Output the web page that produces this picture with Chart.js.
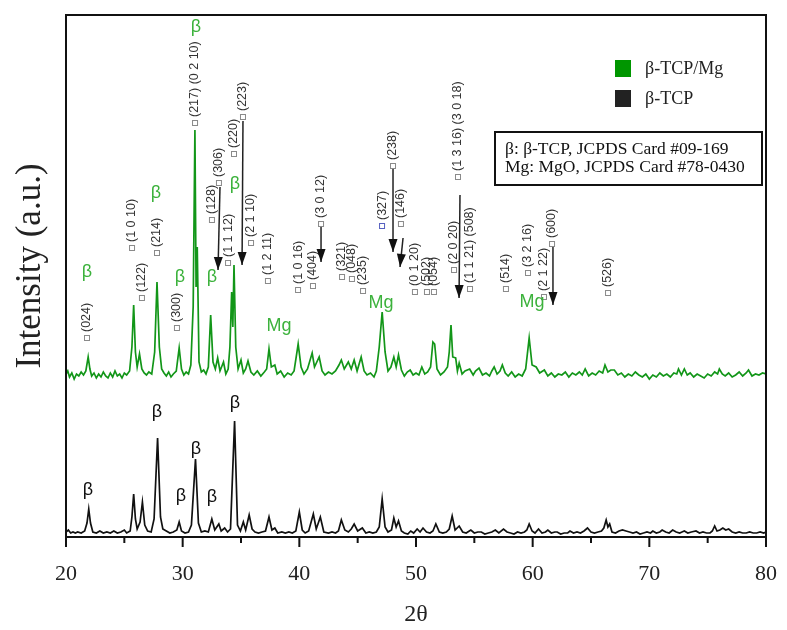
<!DOCTYPE html>
<html>
<head>
<meta charset="utf-8">
<script src="https://cdn.jsdelivr.net/npm/chart.js@4.4.0/dist/chart.umd.min.js"></script>
<style>
  html, body { margin: 0; padding: 0; background: #fff; }
  #wrap { width: 787px; height: 630px; }
</style>
</head>
<body>
<div id="wrap"><canvas id="xrdChart" width="787" height="630"></canvas></div>
<script>
// scan data: [2theta, intensity (a.u., offset included)]
const tcpMgScan = [
  [20.0,163],[20.15,166],[20.3,160],[20.5,164],[20.7,158],[20.9,163],[21.1,161],[21.3,165],[21.5,162],[21.7,166],
  [21.9,180],[22.05,168],[22.2,161],[22.4,164],[22.6,159],[22.8,163],[23.0,160],[23.2,165],[23.4,161],[23.6,159],
  [23.8,164],[24.0,160],[24.2,166],[24.4,161],[24.6,163],[24.8,159],[25.0,164],[25.2,162],[25.45,166],[25.65,190],
  [25.8,232],[25.95,185],[26.1,170],[26.3,183],[26.5,168],[26.7,164],[26.9,162],[27.1,165],[27.35,163],[27.6,185],
  [27.8,255],[28.0,190],[28.2,168],[28.4,164],[28.6,161],[28.8,165],[29.0,160],[29.2,163],[29.45,166],[29.7,189],
  [29.9,168],[30.1,162],[30.3,165],[30.5,163],[30.7,172],[30.9,230],[31.05,407],[31.15,250],[31.25,290],[31.4,175],
  [31.6,165],[31.8,167],[32.0,163],[32.2,170],[32.4,222],[32.6,175],[32.8,168],[33.0,179],[33.2,166],[33.5,175],
  [33.7,163],[33.9,168],[34.05,190],[34.2,245],[34.3,210],[34.4,272],[34.55,190],[34.75,168],[35.0,177],[35.2,164],
  [35.4,168],[35.6,176],[35.85,165],[36.1,162],[36.4,166],[36.7,161],[37.0,165],[37.2,168],[37.4,188],[37.6,170],
  [37.9,172],[38.1,163],[38.4,166],[38.7,160],[39.0,164],[39.3,162],[39.55,166],[39.9,193],[40.15,170],[40.4,163],
  [40.7,168],[41.1,184],[41.3,170],[41.7,180],[41.95,166],[42.2,162],[42.5,165],[42.8,163],[43.1,166],[43.4,172],
  [43.6,177],[43.85,168],[44.2,175],[44.45,168],[44.7,177],[44.95,166],[45.3,180],[45.55,166],[45.8,162],[46.1,164],
  [46.4,160],[46.6,166],[46.85,190],[47.1,225],[47.35,185],[47.6,166],[47.85,170],[48.1,180],[48.3,170],[48.5,182],
  [48.75,167],[49.0,161],[49.25,165],[49.5,167],[49.75,162],[50.0,164],[50.25,162],[50.5,170],[50.75,163],[51.0,165],
  [51.25,170],[51.45,195],[51.6,193],[51.8,168],[52.1,162],[52.4,165],[52.7,170],[52.85,185],[53.0,212],[53.15,180],
  [53.4,179],[53.55,166],[53.7,174],[53.95,163],[54.2,166],[54.6,168],[54.9,162],[55.1,166],[55.4,169],[55.7,162],
  [56.0,164],[56.3,161],[56.5,166],[56.7,170],[56.95,163],[57.2,166],[57.4,172],[57.65,164],[57.9,161],[58.2,165],
  [58.5,160],[58.8,163],[59.1,161],[59.4,168],[59.7,199],[59.95,172],[60.3,170],[60.6,164],[61.0,167],[61.3,161],
  [61.6,164],[61.9,160],[62.2,163],[62.5,162],[62.8,165],[63.1,160],[63.4,164],[63.7,162],[64.0,165],[64.25,162],
  [64.5,168],[64.8,161],[65.1,164],[65.4,162],[65.7,166],[66.0,164],[66.2,172],[66.45,165],[66.7,167],[67.0,167],
  [67.3,162],[67.6,164],[67.9,160],[68.2,163],[68.5,161],[68.8,165],[69.1,162],[69.4,160],[69.7,163],[70.0,158],
  [70.3,162],[70.6,160],[70.9,164],[71.2,161],[71.5,163],[71.8,160],[72.1,164],[72.35,163],[72.5,168],[72.75,162],
  [73.0,168],[73.25,162],[73.5,164],[73.8,160],[74.1,163],[74.4,161],[74.7,159],[75.0,163],[75.3,161],[75.6,165],
  [75.85,163],[76.0,168],[76.25,163],[76.5,161],[76.8,164],[77.1,160],[77.4,162],[77.7,165],[78.0,161],[78.3,164],
  [78.5,167],[78.8,161],[79.1,163],[79.4,162],[79.7,164],[80.0,163]
];

const tcpScan = [
  [20.0,5],[20.2,7],[20.4,4],[20.6,5],[20.8,4],[21.0,5],[21.3,4],[21.6,6],[21.8,14],[21.95,28],
  [22.1,14],[22.3,5],[22.6,4],[22.9,6],[23.2,4],[23.5,5],[23.8,4],[24.1,6],[24.4,4],[24.7,5],
  [25.0,7],[25.2,4],[25.5,6],[25.65,20],[25.8,43],[25.95,18],[26.1,8],[26.35,15],[26.55,35],[26.75,12],
  [27.0,6],[27.3,5],[27.55,18],[27.85,99],[28.1,20],[28.3,8],[28.6,6],[28.9,4],[29.2,5],[29.5,7],
  [29.7,15],[29.9,6],[30.2,4],[30.5,5],[30.75,12],[31.1,78],[31.35,14],[31.6,5],[31.9,6],[32.2,5],
  [32.5,18],[32.75,7],[33.1,13],[33.3,6],[33.6,9],[33.85,5],[34.1,8],[34.45,116],[34.7,12],[34.95,6],
  [35.2,15],[35.4,7],[35.7,22],[35.95,8],[36.2,5],[36.5,4],[36.8,5],[37.1,6],[37.4,20],[37.65,7],
  [37.9,9],[38.15,4],[38.5,5],[38.8,4],[39.1,5],[39.4,4],[39.7,6],[40.0,25],[40.25,7],[40.5,4],
  [40.8,6],[41.2,23],[41.45,8],[41.8,20],[42.1,5],[42.5,4],[42.8,5],[43.1,4],[43.35,6],[43.6,17],
  [43.9,7],[44.2,5],[44.45,8],[44.7,13],[45.0,6],[45.4,9],[45.7,4],[46.0,5],[46.3,4],[46.6,5],
  [46.85,10],[47.1,38],[47.35,10],[47.6,5],[47.9,7],[48.1,19],[48.3,10],[48.5,16],[48.75,6],[49.0,4],
  [49.3,3],[49.55,6],[49.8,4],[50.1,8],[50.35,5],[50.6,9],[50.9,5],[51.2,4],[51.45,6],[51.7,13],
  [52.0,5],[52.3,4],[52.6,5],[52.85,8],[53.1,21],[53.35,7],[53.7,11],[54.0,5],[54.3,4],[54.7,7],
  [55.0,4],[55.3,5],[55.6,5],[55.9,3],[56.2,4],[56.5,5],[56.8,7],[57.1,4],[57.5,8],[57.8,5],
  [58.1,4],[58.4,3],[58.7,5],[59.0,4],[59.3,5],[59.5,7],[59.7,13],[59.95,6],[60.2,4],[60.5,8],
  [60.8,4],[61.1,5],[61.3,7],[61.6,4],[61.9,5],[62.1,5],[62.4,3],[62.7,4],[63.0,4],[63.2,6],
  [63.5,4],[63.8,5],[64.1,4],[64.4,6],[64.7,9],[65.0,5],[65.3,4],[65.6,5],[65.9,6],[66.1,9],
  [66.3,17],[66.45,10],[66.6,13],[66.8,5],[67.1,4],[67.4,6],[67.7,7],[68.0,6],[68.3,5],[68.6,4],
  [68.9,5],[69.2,3],[69.5,4],[69.8,5],[70.1,4],[70.3,6],[70.6,4],[70.9,5],[71.1,7],[71.4,5],
  [71.7,4],[72.0,7],[72.3,5],[72.6,4],[72.8,5],[73.0,6],[73.3,4],[73.6,5],[74.0,6],[74.3,4],
  [74.6,5],[74.9,4],[75.2,4],[75.4,6],[75.6,11],[75.8,6],[76.05,7],[76.3,9],[76.55,7],[76.8,8],
  [77.1,5],[77.4,4],[77.7,5],[78.0,4],[78.3,4],[78.6,5],[78.9,4],[79.2,4],[79.5,5],[79.8,4],[80.0,5]
];

const xMajorTicks = [20, 30, 40, 50, 60, 70, 80];
const xMinorTicks = [25, 35, 45, 55, 65, 75];

// hkl reflections: [label, 2theta, marker height]
const hklMarks = [
  ['(024)', 21.8, 199], ['(1 0 10)', 25.66, 289], ['(122)', 26.51, 239], ['(214)', 27.8, 284],
  ['(300)', 29.51, 209], ['(217) (0 2 10)', 31.06, 414], ['(128)', 32.51, 317], ['(306)', 33.11, 354],
  ['(1 1 12)', 33.89, 274], ['(220)', 34.4, 383], ['(223)', 35.17, 420], ['(2 1 10)', 35.86, 294],
  ['(1 2 11)', 37.31, 256], ['(1 0 16)', 39.89, 247], ['(404)', 41.17, 251], ['(3 0 12)', 41.86, 313],
  ['(321)', 43.66, 260], ['(048)', 44.51, 258], ['(235)', 45.46, 246], ['(327)', 47.09, 311],
  ['(238)', 48.03, 371], ['(146)', 48.71, 313], ['(0 1 20)', 49.91, 245], ['(502)', 50.94, 245],
  ['(054)', 51.54, 245], ['(2 0 20)', 53.26, 267], ['(1 3 16) (3 0 18)', 53.6, 360],
  ['(1 1 21) (508)', 54.63, 248], ['(514)', 57.71, 248], ['(3 2 16)', 59.6, 264],
  ['(2 1 22)', 60.97, 240], ['(600)', 61.66, 293], ['(526)', 66.46, 244]
];

// arrows: [from 2theta, from height, to 2theta, to height]
const hklArrows = [
  [33.2, 350, 33.03, 267], [35.17, 416, 35.09, 272], [41.86, 310, 41.86, 275],
  [48.03, 368, 48.03, 285], [48.89, 299, 48.63, 270], [53.77, 342, 53.69, 239],
  [61.74, 290, 61.74, 232]
];

const phaseTagsMg = [
  ['β', 21.8, 265], ['β', 27.71, 344], ['β', 29.77, 260], ['β', 31.14, 510], ['β', 32.51, 260],
  ['β', 34.49, 353], ['Mg', 38.26, 211], ['Mg', 47.0, 234], ['Mg', 59.94, 235]
];
const phaseTagsTcp = [
  ['β', 21.89, 47], ['β', 27.8, 125], ['β', 29.86, 41], ['β', 31.14, 88], ['β', 32.51, 40], ['β', 34.49, 134]
];

const cardLines = ['β: β-TCP, JCPDS Card #09-169', 'Mg: MgO, JCPDS Card #78-0430'];
const yTitle = 'Intensity (a.u.)';

const GREEN = 'rgb(18,150,24)';
const TAG_GREEN = 'rgb(60,178,60)';
const SERIF = '"Liberation Serif", "Times New Roman", serif';

const toPoints = scan => scan.map(p => ({ x: p[0], y: p[1] }));

const decorPlugin = {
    id: 'decor',
    afterDatasetsDraw(chart) {
        const { ctx, chartArea: a, scales: { x, y } } = chart;
        ctx.save();

        // frame + ticks
        ctx.strokeStyle = '#111';
        ctx.lineWidth = 2;
        ctx.strokeRect(a.left, a.top, a.right - a.left, a.bottom - a.top);
        xMajorTicks.forEach(v => {
            const px = x.getPixelForValue(v);
            ctx.beginPath(); ctx.moveTo(px, a.bottom); ctx.lineTo(px, a.bottom + 10); ctx.stroke();
        });
        xMinorTicks.forEach(v => {
            const px = x.getPixelForValue(v);
            ctx.beginPath(); ctx.moveTo(px, a.bottom); ctx.lineTo(px, a.bottom + 6); ctx.stroke();
        });

        // y title
        ctx.save();
        ctx.translate(31, 266);
        ctx.rotate(-Math.PI / 2);
        ctx.font = '35px ' + SERIF;
        ctx.fillStyle = '#222';
        ctx.textAlign = 'center';
        ctx.textBaseline = 'middle';
        ctx.fillText(yTitle, 0, 0);
        ctx.restore();

        // hkl markers
        ctx.font = '12.5px "Liberation Sans", Arial, sans-serif';
        ctx.textAlign = 'left';
        ctx.textBaseline = 'middle';
        hklMarks.forEach(([txt, t, h]) => {
            const px = x.getPixelForValue(t), py = y.getPixelForValue(h);
            ctx.strokeStyle = txt === '(327)' ? '#5560c0' : '#8a8a8a';
            ctx.lineWidth = 1;
            ctx.strokeRect(px - 2.5, py - 2.5, 5, 5);
            ctx.save();
            ctx.translate(px, py - 6);
            ctx.rotate(-Math.PI / 2);
            ctx.fillStyle = '#333';
            ctx.fillText(txt, 0, 0);
            ctx.restore();
        });

        // arrows
        ctx.strokeStyle = '#222';
        ctx.fillStyle = '#111';
        ctx.lineWidth = 1.5;
        hklArrows.forEach(([t1, h1, t2, h2]) => {
            const x1 = x.getPixelForValue(t1), y1 = y.getPixelForValue(h1);
            const x2 = x.getPixelForValue(t2), y2 = y.getPixelForValue(h2);
            const ang = Math.atan2(y2 - y1, x2 - x1);
            ctx.beginPath(); ctx.moveTo(x1, y1); ctx.lineTo(x2, y2); ctx.stroke();
            ctx.save();
            ctx.translate(x2, y2);
            ctx.rotate(ang);
            ctx.beginPath(); ctx.moveTo(0, 0); ctx.lineTo(-13, -4.5); ctx.lineTo(-13, 4.5); ctx.closePath(); ctx.fill();
            ctx.restore();
        });

        // phase tags
        ctx.textAlign = 'center';
        ctx.textBaseline = 'middle';
        ctx.font = '18px "Liberation Sans", Arial, sans-serif';
        ctx.fillStyle = TAG_GREEN;
        phaseTagsMg.forEach(([txt, t, h]) => ctx.fillText(txt, x.getPixelForValue(t), y.getPixelForValue(h)));
        ctx.fillStyle = '#111';
        phaseTagsTcp.forEach(([txt, t, h]) => ctx.fillText(txt, x.getPixelForValue(t), y.getPixelForValue(h)));

        // legend
        ctx.textAlign = 'left';
        ctx.font = '18px ' + SERIF;
        chart.data.datasets.forEach((ds, i) => {
            const ly = 60 + i * 30;
            ctx.fillStyle = ds.legendColor;
            ctx.fillRect(615, ly, 16, 17);
            ctx.fillStyle = '#222';
            ctx.fillText(ds.label, 645, ly + 9);
        });

        // card box
        ctx.strokeStyle = '#111';
        ctx.lineWidth = 2;
        ctx.fillStyle = '#fff';
        ctx.fillRect(495, 132, 267, 53);
        ctx.strokeRect(495, 132, 267, 53);
        ctx.fillStyle = '#111';
        ctx.font = '17.5px ' + SERIF;
        cardLines.forEach((line, i) => ctx.fillText(line, 505, 149 + i * 18));

        ctx.restore();
    }
};

new Chart(document.getElementById('xrdChart'), {
    type: 'line',
    data: {
        datasets: [{
            label: 'β-TCP/Mg',
            data: toPoints(tcpMgScan),
            borderColor: GREEN,
            legendColor: 'rgb(0,150,0)',
            borderWidth: 1.7,
            pointRadius: 0,
            tension: 0
        }, {
            label: 'β-TCP',
            data: toPoints(tcpScan),
            borderColor: '#111',
            legendColor: '#222',
            borderWidth: 1.7,
            pointRadius: 0,
            tension: 0
        }]
    },
    options: {
        responsive: false,
        animation: false,
        devicePixelRatio: 1,
        layout: { padding: { top: 15, right: 21, left: 0, bottom: 0 } },
        plugins: { legend: { display: false }, tooltip: { enabled: false } },
        scales: {
            x: {
                type: 'linear',
                min: 20,
                max: 80,
                grid: { display: false, drawTicks: false },
                border: { display: false },
                ticks: {
                    stepSize: 10,
                    padding: 24,
                    color: '#222',
                    font: { family: SERIF, size: 22 }
                },
                title: {
                    display: true,
                    text: '2θ',
                    color: '#222',
                    padding: { top: 0, bottom: 1 },
                    font: { family: SERIF, size: 24 }
                },
                afterFit: scale => {
                    scale.height = 93;
                    scale.paddingLeft = 0;
                    scale.paddingRight = 0;
                }
            },
            y: {
                min: 0,
                max: 522,
                grid: { display: false, drawTicks: false },
                border: { display: false },
                ticks: { display: false },
                afterFit: scale => { scale.width = 66; }
            }
        }
    },
    plugins: [decorPlugin]
});
</script>
</body>
</html>
